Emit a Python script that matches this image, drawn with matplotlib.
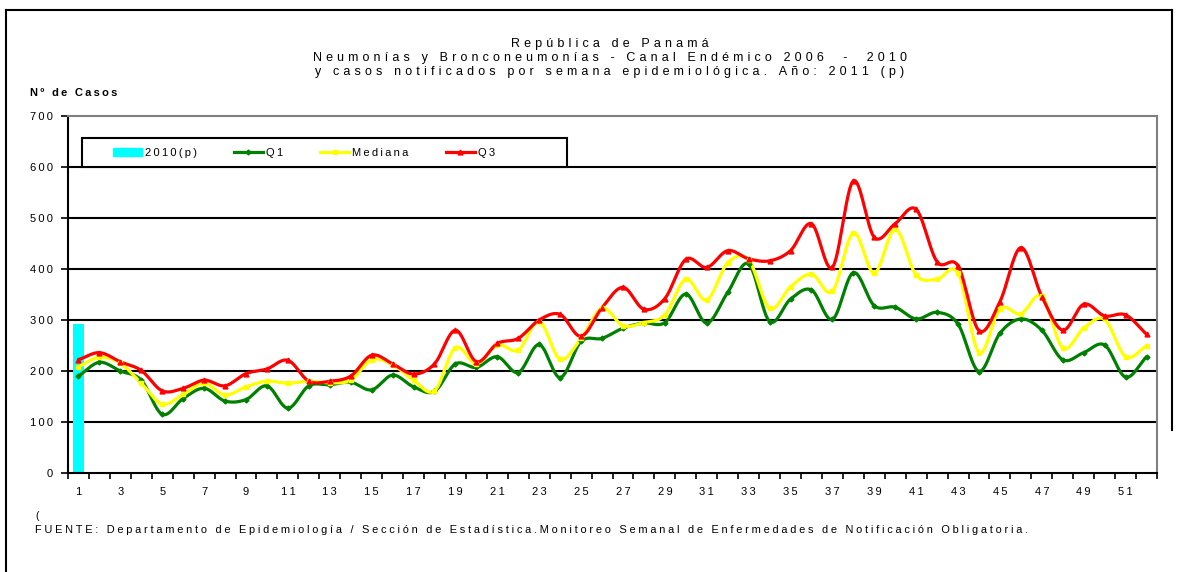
import numpy as np
import matplotlib.pyplot as plt
from matplotlib.lines import Line2D
from matplotlib.patches import Patch, Rectangle

plt.rcParams['font.family'] = ['Liberation Sans', 'DejaVu Sans']

weeks = np.arange(1, 53)
casos_2010 = [293]  # only week 1 notified so far

q1 = [190, 217, 200, 182, 115, 146, 166, 141, 144, 171, 127, 171, 173, 178, 163, 192, 169, 160,
      214, 207, 228, 197, 252, 187, 258, 264, 284, 294, 295, 351, 294, 354, 410, 297, 341, 359,
      301, 393, 328, 325, 302, 315, 292, 199, 274, 302, 280, 222, 236, 251, 188, 228]
mediana = [208, 227, 215, 176, 135, 154, 176, 153, 169, 180, 176, 180, 177, 182, 222, 212, 182, 161,
           246, 214, 251, 241, 297, 223, 264, 323, 289, 295, 310, 380, 339, 412, 418, 323, 365, 390,
           356, 471, 392, 478, 388, 380, 392, 236, 322, 312, 347, 245, 284, 301, 228, 249]
q3 = [222, 236, 218, 201, 161, 166, 182, 171, 195, 204, 221, 180, 180, 190, 231, 214, 194, 214,
      280, 218, 254, 264, 300, 311, 268, 324, 364, 321, 342, 419, 403, 436, 420, 416, 436, 489,
      403, 573, 462, 489, 517, 414, 406, 279, 336, 442, 346, 280, 331, 308, 310, 272]

THIN = '\u2009'
WIDE = '\u2004'


def spaced(s, sp=THIN):
    # the original chart has loose letter spacing
    return sp.join(s)


def smooth(x, y, n=12):
    # Catmull-Rom curve through the points (like Excel's "smoothed line")
    out = []
    for p in (np.asarray(x, float), np.asarray(y, float)):
        p = np.concatenate([[2 * p[0] - p[1]], p, [2 * p[-1] - p[-2]]])
        t = np.linspace(0, 1, n, endpoint=False)[:, None]
        p0, p1, p2, p3 = p[:-3], p[1:-2], p[2:-1], p[3:]
        seg = 0.5 * (2 * p1 + (-p0 + p2) * t + (2 * p0 - 5 * p1 + 4 * p2 - p3) * t ** 2
                     + (-p0 + 3 * p1 - 3 * p2 + p3) * t ** 3)
        out.append(np.append(seg.T.ravel(), p[-2]))
    return out


fig = plt.figure(figsize=(11.8, 5.72), dpi=100)
ax = fig.add_axes([68 / 1180, 1 - 473 / 572, (1157 - 68) / 1180, (473 - 116) / 572])

ax.bar([1], casos_2010, width=0.57, color='#00ffff', zorder=2)

series = [(q1, '#008000', 'D', 2.5), (mediana, '#ffff00', 's', 2.5), (q3, '#ff0000', '^', 3.5)]
for vals, col, mk, ms in series:
    sx, sy = smooth(weeks, vals)
    ax.plot(sx, sy, color=col, lw=2.3, zorder=3, solid_capstyle='round')
    ax.plot(weeks, vals, ls='none', marker=mk, ms=ms, color=col, zorder=4)

ax.set_xlim(0.5, 52.5)
ax.set_ylim(0, 700)
yt = np.arange(0, 701, 100)
ax.set_yticks(yt)
ax.set_yticklabels([spaced(str(v)) for v in yt])
xt = np.arange(1, 53, 2)
ax.set_xticks(xt)
ax.set_xticklabels([spaced(str(v)) for v in xt])
ax.set_xticks(np.arange(0.5, 53, 1), minor=True)
ax.tick_params(axis='x', which='major', length=0, pad=10, labelsize=8)
ax.tick_params(axis='x', which='minor', length=4, width=1.2, direction='out')
ax.tick_params(axis='y', length=5, width=1.2, labelsize=8, pad=6)
for v in range(100, 700, 100):
    ax.axhline(v, color='black', lw=1.5, zorder=1)
ax.spines['left'].set_linewidth(1.5)
ax.spines['bottom'].set_linewidth(1.5)
for side in ('top', 'right'):
    ax.spines[side].set_color('#808080')
    ax.spines[side].set_linewidth(1.5)

# legend: frame drawn separately, entries spread over the inner part
ax.add_patch(Rectangle((14 / 1089, (473 - 167) / 357), (567 - 82) / 1089, 29 / 357,
                       transform=ax.transAxes, fill=True, facecolor='white',
                       edgecolor='black', lw=1.5, zorder=5))
handles = [Patch(color='#00ffff'),
           Line2D([], [], color='#008000', lw=2.3, marker='D', ms=2.5),
           Line2D([], [], color='#ffff00', lw=2.3, marker='s', ms=2.5),
           Line2D([], [], color='#ff0000', lw=2.3, marker='^', ms=3.5)]
labels = [spaced(s) for s in ['2010(p)', 'Q1', 'Mediana', 'Q3']]
leg = ax.legend(handles, labels, ncol=4, mode='expand', loc='center left',
                bbox_to_anchor=((113 - 68) / 1089, (473 - 167) / 357, (495 - 113) / 1089, 29 / 357),
                frameon=False, fontsize=8, handlelength=2.6, handletextpad=0.3,
                borderaxespad=0, borderpad=0)
leg.set_zorder(6)

tx = 610 / 1180
fig.text(tx, 1 - 44 / 572, spaced('República de Panamá', WIDE), ha='center', va='center', fontsize=9)
fig.text(tx, 1 - 58 / 572, spaced('Neumonías y Bronconeumonías - Canal Endémico 2006  -  2010', WIDE),
         ha='center', va='center', fontsize=9)
fig.text(tx, 1 - 72 / 572, spaced('y casos notificados por semana epidemiológica. Año: 2011 (p)', WIDE),
         ha='center', va='center', fontsize=9)
fig.text(30 / 1180, 1 - 93 / 572, spaced('Nº de Casos'), ha='left', va='center', fontsize=8,
         fontweight='bold')
fig.text(35 / 1180, 1 - 516 / 572, '(', ha='left', va='center', fontsize=7.5)
fig.text(35 / 1180, 1 - 530 / 572,
         spaced('FUENTE: Departamento de Epidemiología / Sección de Estadística.Monitoreo Semanal de '
                'Enfermedades de Notificación Obligatoria.', '\u2005'),
         ha='left', va='center', fontsize=7.9)

# outer chart-area frame
fig.add_artist(Line2D([6 / 1180, 1172 / 1180], [1 - 10 / 572, 1 - 10 / 572], color='black', lw=1.5))
fig.add_artist(Line2D([6 / 1180, 6 / 1180], [1 - 10 / 572, 0], color='black', lw=1.5))
fig.add_artist(Line2D([1172 / 1180, 1172 / 1180], [1 - 10 / 572, 1 - 430 / 572], color='black', lw=1.5))

fig.savefig('out.png', dpi=100)
